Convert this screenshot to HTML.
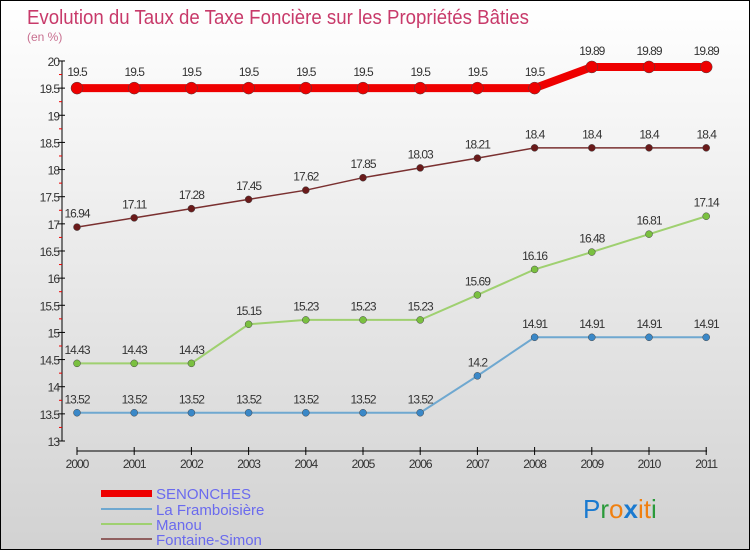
<!DOCTYPE html>
<html><head><meta charset="utf-8"><style>
body{margin:0}
#c{position:relative;width:750px;height:550px;box-sizing:border-box;border:1px solid #000;background:linear-gradient(#fff,#d2d2d2);font-family:"Liberation Sans",sans-serif;overflow:hidden}
</style></head><body>
<div id="c">
<svg id="s" width="750" height="550" style="position:absolute;left:0;top:0">
<text x="26" y="23" font-size="20" fill="#c83a6a" textLength="502" lengthAdjust="spacingAndGlyphs">Evolution du Taux de Taxe Foncière sur les Propriétés Bâties</text>
<text x="26" y="40" font-size="12" fill="#c87090">(en %)</text>
<g id="plot"></g>
<g>
<rect x="100" y="489" width="51" height="7" fill="#e00"/>
<text x="155" y="498" font-size="15" fill="#6a6aee">SENONCHES</text>
<line x1="100" y1="508" x2="151" y2="508" stroke="#6fa8d0" stroke-width="2"/>
<text x="155" y="514" font-size="15" fill="#6a6aee">La Framboisière</text>
<line x1="100" y1="523" x2="151" y2="523" stroke="#9fd070" stroke-width="2"/>
<text x="155" y="529" font-size="15" fill="#6a6aee">Manou</text>
<line x1="100" y1="538" x2="151" y2="538" stroke="#906060" stroke-width="2"/>
<text x="155" y="544" font-size="15" fill="#6a6aee">Fontaine-Simon</text>
</g>
<text x="582" y="517" font-size="26"><tspan fill="#1a7ad0">P</tspan><tspan fill="#2a9a3a">r</tspan><tspan fill="#f08010">o</tspan><tspan fill="#1a7ad0" font-weight="bold">x</tspan><tspan fill="#f08010">i</tspan><tspan fill="#f08010">t</tspan><tspan fill="#2a9a3a">i</tspan></text>
</svg>
</div>
<script>
const years=["2000","2001","2002","2003","2004","2005","2006","2007","2008","2009","2010","2011"];
const senonches=[19.5,19.5,19.5,19.5,19.5,19.5,19.5,19.5,19.5,19.89,19.89,19.89];
const framboisiere=[13.52,13.52,13.52,13.52,13.52,13.52,13.52,14.2,14.91,14.91,14.91,14.91];
const manou=[14.43,14.43,14.43,15.15,15.23,15.23,15.23,15.69,16.16,16.48,16.81,17.14];
const fontaine=[16.94,17.11,17.28,17.45,17.62,17.85,18.03,18.21,18.4,18.4,18.4,18.4];
const yTicks=[13,13.5,14,14.5,15,15.5,16,16.5,17,17.5,18,18.5,19,19.5,20];
const NS="http://www.w3.org/2000/svg";
const g=document.getElementById('plot');
const X=i=>76+i*57.2;
const Y=v=>440-(v-13)*54.29;
function mk(t,a){const e=document.createElementNS(NS,t);for(const k in a)e.setAttribute(k,a[k]);g.appendChild(e);return e;}
let e=mk('line',{x1:61,y1:Y(20),x2:61,y2:Y(13),stroke:'#000'});


e=mk('line',{x1:76,y1:450,x2:706,y2:450,stroke:'#000'});


yTicks.forEach((v,i)=>{
 e=mk('line',{x1:57,y1:Y(v),x2:64,y2:Y(v),stroke:'#000'});
 
 
 e=mk('text',{x:58,y:Y(v)+5,'font-size':12,'text-anchor':'end',fill:'#333','letter-spacing':'-1'});
 e.textContent=String(v);
 
 
 if(i<yTicks.length-1){e=mk('line',{x1:58,y1:Y(v+0.25),x2:61,y2:Y(v+0.25),stroke:'#e00'});
 
 }
});
years.forEach((y,i)=>{
 e=mk('line',{x1:X(i),y1:446,x2:X(i),y2:454,stroke:'#000'});
 
 
 e=mk('text',{x:X(i),y:467,'font-size':12,'text-anchor':'middle',fill:'#333','letter-spacing':'-1'});
 e.textContent=y;
 
 
});
function series(d,name,col,w,r,dot){
 e=mk('polyline',{points:d.map((v,i)=>X(i)+','+Y(v)).join(' '),fill:'none',stroke:col,'stroke-width':w});
 
 
 d.forEach((v,i)=>{
  e=mk('circle',{cx:X(i),cy:Y(v),r:r,fill:dot,stroke:'#444','stroke-width':0.5});
  
  
  e=mk('text',{x:X(i),y:Y(v)-r-6,'font-size':12,'text-anchor':'middle',fill:'#333','letter-spacing':'-1'});
  e.textContent=String(v);
  
  
 });
}
series(fontaine,'fontaine-simon','#7a3030',1.5,3.5,'#6a1a1a');
series(manou,'manou','#9fd070',2,3.5,'#7ac040');
series(framboisiere,'framboisiere','#6fa8d0',2,3.5,'#3a88c8');
series(senonches,'senonches','#e00',8,6,'#e00');
</script>
</body></html>
